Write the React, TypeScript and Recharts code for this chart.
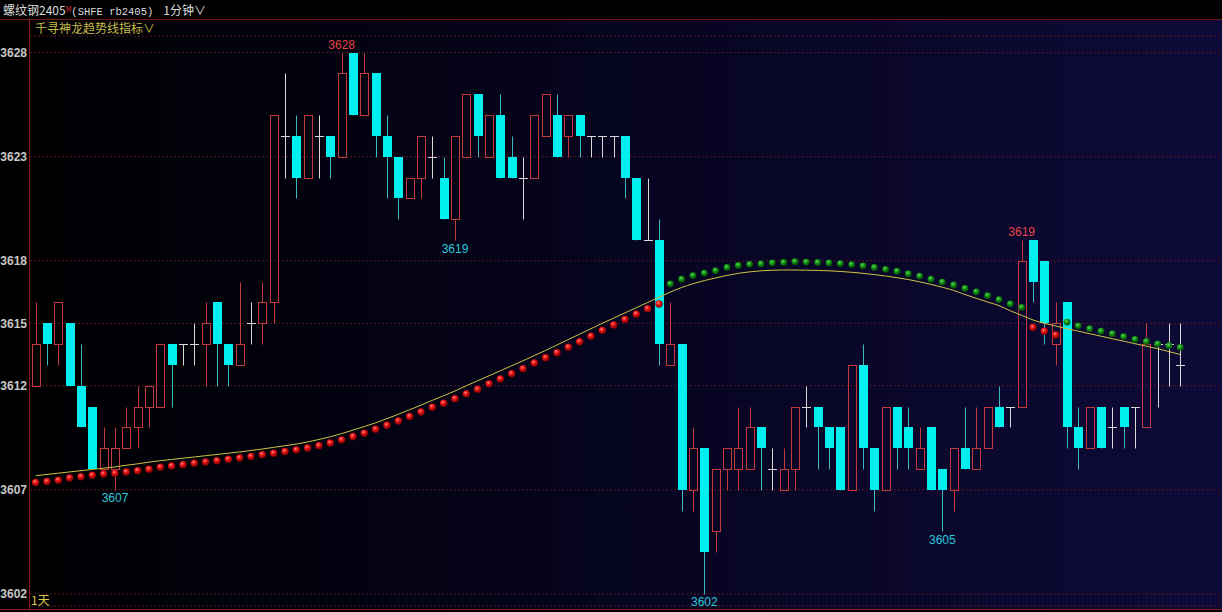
import React from "react";
import { ComposedChart, Bar, Line, XAxis, YAxis, CartesianGrid, ReferenceDot } from "recharts";

// 1-minute bars, rb2405
const opens = [
  3612, 3615, 3614, 3615, 3612, 3611, 3608, 3608, 3609, 3610,
  3611, 3611, 3614, 3614, 3614, 3614, 3616, 3614, 3613, 3615,
  3615, 3616, 3624, 3624, 3622, 3624, 3624, 3623, 3628, 3625,
  3627, 3624, 3623, 3621, 3622, 3623, 3622, 3620, 3623, 3626,
  3623, 3625, 3623, 3622, 3622, 3624, 3625, 3624, 3625, 3624,
  3624, 3624, 3624, 3622, 3619, 3619, 3613, 3614, 3607, 3609,
  3605, 3608, 3608, 3608, 3610, 3608, 3607, 3608, 3611, 3611,
  3610, 3610, 3607, 3613, 3609, 3607, 3611, 3610, 3608, 3610,
  3608, 3607, 3609, 3608, 3609, 3611, 3611, 3611, 3619, 3618,
  3614, 3616, 3610, 3609, 3611, 3610, 3611, 3611, 3610, 3614,
  3614, 3613,
];
const highs = [
  3616, 3615, 3616, 3615, 3614, 3611, 3610, 3610, 3611, 3612,
  3612, 3614, 3614, 3614, 3615, 3616, 3616, 3614, 3617, 3616,
  3617, 3625, 3627, 3625, 3625, 3625, 3624, 3628, 3628, 3628,
  3627, 3625, 3623, 3622, 3624, 3624, 3623, 3624, 3626, 3626,
  3625, 3626, 3624, 3623, 3625, 3626, 3626, 3625, 3625, 3624,
  3624, 3624, 3624, 3622, 3622, 3620, 3616, 3614, 3610, 3609,
  3608, 3609, 3611, 3611, 3610, 3609, 3609, 3611, 3612, 3611,
  3610, 3610, 3613, 3614, 3609, 3611, 3611, 3611, 3610, 3610,
  3608, 3609, 3611, 3611, 3611, 3612, 3611, 3619, 3619, 3618,
  3616, 3616, 3611, 3611, 3611, 3611, 3611, 3611, 3615, 3614,
  3615, 3615,
];
const lows = [
  3612, 3613, 3613, 3612, 3610, 3608, 3608, 3607, 3609, 3609,
  3610, 3611, 3611, 3613, 3613, 3612, 3612, 3612, 3613, 3614,
  3614, 3615, 3622, 3621, 3622, 3622, 3622, 3623, 3625, 3625,
  3623, 3621, 3620, 3621, 3621, 3622, 3620, 3619, 3623, 3623,
  3623, 3622, 3622, 3620, 3622, 3624, 3623, 3623, 3623, 3623,
  3623, 3623, 3621, 3619, 3619, 3613, 3613, 3606, 3606, 3602,
  3604, 3607, 3607, 3608, 3607, 3607, 3607, 3607, 3610, 3608,
  3608, 3607, 3607, 3608, 3606, 3607, 3608, 3608, 3608, 3607,
  3605, 3606, 3608, 3608, 3609, 3610, 3610, 3611, 3616, 3614,
  3613, 3609, 3608, 3609, 3609, 3609, 3609, 3609, 3610, 3611,
  3612, 3612,
];
const closes = [
  3614, 3614, 3616, 3612, 3610, 3608, 3609, 3609, 3610, 3611,
  3612, 3614, 3613, 3614, 3614, 3615, 3614, 3613, 3614, 3615,
  3616, 3625, 3624, 3622, 3625, 3624, 3623, 3627, 3625, 3627,
  3624, 3623, 3621, 3622, 3624, 3623, 3620, 3624, 3626, 3624,
  3625, 3622, 3622, 3622, 3625, 3626, 3623, 3625, 3624, 3624,
  3624, 3624, 3622, 3619, 3619, 3614, 3614, 3607, 3609, 3604,
  3608, 3609, 3609, 3610, 3609, 3608, 3608, 3611, 3611, 3610,
  3609, 3607, 3613, 3609, 3607, 3611, 3609, 3609, 3609, 3607,
  3607, 3609, 3608, 3609, 3611, 3610, 3611, 3618, 3617, 3615,
  3615, 3610, 3609, 3611, 3609, 3610, 3610, 3611, 3614, 3614,
  3614, 3613,
];
// yellow trend line
const trendLine = [
  3607.68, 3607.74, 3607.8, 3607.86, 3607.92, 3607.98, 3608.04, 3608.1, 3608.18, 3608.25,
  3608.33, 3608.4, 3608.46, 3608.52, 3608.58, 3608.64, 3608.7, 3608.76, 3608.82, 3608.89,
  3608.96, 3609.04, 3609.12, 3609.2, 3609.3, 3609.42, 3609.55, 3609.7, 3609.87, 3610.04,
  3610.22, 3610.42, 3610.63, 3610.85, 3611.07, 3611.3, 3611.52, 3611.75, 3612.0, 3612.24,
  3612.48, 3612.72, 3612.96, 3613.2, 3613.45, 3613.7, 3613.96, 3614.22, 3614.48, 3614.74,
  3615.0, 3615.25, 3615.5, 3615.75, 3616.0, 3616.25, 3616.5, 3616.72, 3616.9, 3617.05,
  3617.18, 3617.3, 3617.4, 3617.47, 3617.52, 3617.55, 3617.56, 3617.56, 3617.55, 3617.54,
  3617.52, 3617.49, 3617.45, 3617.4, 3617.34, 3617.27, 3617.19, 3617.1, 3616.99, 3616.87,
  3616.73, 3616.58, 3616.38, 3616.2, 3616.02, 3615.85, 3615.6, 3615.38, 3615.16, 3615.0,
  3614.87, 3614.74, 3614.62, 3614.5, 3614.38, 3614.26, 3614.14, 3614.02, 3613.9, 3613.78,
  3613.64, 3613.5,
];
// dots: below the line = red, above = green
const stopDots = [
  3607.35, 3607.4, 3607.46, 3607.57, 3607.63, 3607.7, 3607.76, 3607.8, 3607.86, 3607.92,
  3607.99, 3608.09, 3608.15, 3608.21, 3608.28, 3608.34, 3608.4, 3608.47, 3608.53, 3608.6,
  3608.69, 3608.76, 3608.84, 3608.92, 3609.01, 3609.12, 3609.25, 3609.4, 3609.56, 3609.72,
  3609.91, 3610.1, 3610.31, 3610.52, 3610.74, 3610.97, 3611.16, 3611.38, 3611.61, 3611.83,
  3612.09, 3612.33, 3612.58, 3612.82, 3613.09, 3613.35, 3613.59, 3613.85, 3614.11, 3614.38,
  3614.66, 3614.92, 3615.18, 3615.44, 3615.7, 3615.93, 3616.89, 3617.12, 3617.29, 3617.41,
  3617.53, 3617.68, 3617.78, 3617.83, 3617.85, 3617.9, 3617.92, 3617.96, 3617.94, 3617.92,
  3617.9, 3617.87, 3617.82, 3617.76, 3617.68, 3617.59, 3617.5, 3617.38, 3617.27, 3617.12,
  3616.98, 3616.84, 3616.68, 3616.51, 3616.33, 3616.14, 3615.93, 3615.76, 3614.8, 3614.62,
  3614.44, 3615.06, 3614.88, 3614.74, 3614.62, 3614.5, 3614.36, 3614.23, 3614.13, 3614.01,
  3613.92, 3613.84,
];
const priceTicks = [3602, 3607, 3612, 3615, 3618, 3623, 3628];
const extremes = [
  { bar: 28, price: 3628, side: "high" },
  { bar: 8, price: 3607, side: "low" },
  { bar: 38, price: 3619, side: "low" },
  { bar: 60, price: 3602, side: "low" },
  { bar: 81, price: 3605, side: "low" },
  { bar: 88, price: 3619, side: "high" },
];

const data = opens.map((o, i) => ({
  t: String(i + 1),
  open: o,
  high: highs[i],
  low: lows[i],
  close: closes[i],
  range: [lows[i], highs[i]],
  trend: trendLine[i],
  red: stopDots[i] < trendLine[i] ? stopDots[i] : null,
  green: stopDots[i] > trendLine[i] ? stopDots[i] : null,
}));

const UP = "#c23a3e";
const DOWN = "#00f0f0";
const DOWN_WICK = "#3ab8c0";
const DOJI = "#d8d8d8";

function Candle(props: any) {
  const { x, y, width, height, payload } = props;
  if (x == null || y == null) return <g />;
  const top = Math.min(y, y + height);
  const h = Math.abs(height);
  const { open, close, high, low } = payload;
  const py = (v: number) => top + ((high - v) / (high - low)) * h;
  const ry = (v: number) => Math.round(py(v)) + 0.5;
  const c = Math.round(x + width / 2);
  const wx = c + 0.5;
  const yH = ry(high);
  const yL = ry(low);

  if (open === close) {
    const yo = ry(open);
    return (
      <g>
        <line x1={wx} x2={wx} y1={yH} y2={yL} stroke={DOJI} />
        <line x1={c - 4} x2={c + 5} y1={yo} y2={yo} stroke={DOJI} />
      </g>
    );
  }
  if (close > open) {
    const bt = ry(close);
    const bb = ry(open);
    return (
      <g>
        {bt > yH && <line x1={wx} x2={wx} y1={yH} y2={bt} stroke={UP} />}
        {bb < yL && <line x1={wx} x2={wx} y1={bb} y2={yL} stroke={UP} />}
        <rect x={c - 3.5} y={bt} width={8} height={bb - bt} fill="none" stroke={UP} />
      </g>
    );
  }
  const bt = Math.round(py(open));
  const bb = Math.round(py(close));
  return (
    <g>
      <line x1={wx} x2={wx} y1={yH} y2={yL} stroke={DOWN_WICK} />
      <rect x={c - 4} y={bt} width={9} height={Math.max(1, bb - bt)} fill={DOWN} />
    </g>
  );
}

const ball = (fillId: string, r: number) => (p: any) => {
  const { cx, cy, index, value } = p;
  if (value == null || cy == null || Number.isNaN(cy)) return <g key={`${fillId}-${index}`} />;
  return <circle key={`${fillId}-${index}`} cx={cx} cy={cy} r={r} fill={`url(#${fillId})`} />;
};

const cjk = '"Noto Sans CJK SC", "DejaVu Sans", sans-serif';
const num = '"Liberation Sans", Arial, sans-serif';

export default function App() {
  return (
    <div style={{ position: "absolute", left: 0, top: 0, width: 1222, height: 612, background: "#000", overflow: "hidden" }}>
      {/* plot background */}
      <div
        style={{
          position: "absolute",
          left: 30,
          top: 20,
          width: 1192,
          height: 589,
          background: "linear-gradient(to right, #000002 0%, #020210 25%, #070522 55%, #0e0a38 100%)",
        }}
      />
      <div style={{ position: "absolute", left: 0, top: 19, width: 1222, height: 1, background: "#6e1414" }} />
      <div style={{ position: "absolute", left: 29, top: 19, width: 1, height: 591, background: "#8a1c1c" }} />
      <div style={{ position: "absolute", left: 0, top: 609, width: 1222, height: 1, background: "#8a1c1c" }} />

      <div style={{ position: "absolute", left: 0, top: 0 }}>
        <ComposedChart width={1222} height={612} data={data} margin={{ top: 36, right: 0, bottom: 6, left: 0 }}>
          <defs>
            <radialGradient id="redBall" cx="40%" cy="35%" r="65%">
              <stop offset="0%" stopColor="#ff9a9a" />
              <stop offset="35%" stopColor="#f01818" />
              <stop offset="100%" stopColor="#7a0000" />
            </radialGradient>
            <radialGradient id="greenBall" cx="40%" cy="35%" r="65%">
              <stop offset="0%" stopColor="#6ad86a" />
              <stop offset="40%" stopColor="#159a15" />
              <stop offset="100%" stopColor="#064806" />
            </radialGradient>
          </defs>
          <CartesianGrid vertical={false} stroke="#561722" strokeDasharray="2 2" />
          <XAxis dataKey="t" type="category" hide padding={{ left: 0, right: 36 }} />
          <YAxis
            type="number"
            domain={[3601.42, 3628.8]}
            allowDataOverflow
            ticks={priceTicks}
            interval={0}
            width={30}
            axisLine={false}
            tickLine={false}
            tickSize={0}
            tickMargin={3}
            tick={{ fill: "#c8c8c8", fontSize: 12, fontWeight: "bold", fontFamily: num }}
          />
          <Bar dataKey="range" shape={<Candle />} isAnimationActive={false} />
          <Line
            dataKey="trend"
            type="monotone"
            stroke="#cfc444"
            strokeWidth={1}
            dot={false}
            activeDot={false}
            isAnimationActive={false}
          />
          <Line dataKey="red" stroke="none" dot={ball("redBall", 3.7)} activeDot={false} isAnimationActive={false} />
          <Line dataKey="green" stroke="none" dot={ball("greenBall", 3.4)} activeDot={false} isAnimationActive={false} />
          {extremes.map((e) => (
            <ReferenceDot
              key={`${e.bar}-${e.price}`}
              x={String(e.bar)}
              y={e.price}
              r={0}
              ifOverflow="visible"
              label={{
                value: String(e.price),
                position: e.side === "high" ? "top" : "bottom",
                offset: 4,
                fill: e.side === "high" ? "#e84444" : "#2cc8dc",
                fontSize: 12,
                fontFamily: num,
              }}
            />
          ))}
        </ComposedChart>
      </div>

      <div style={{ position: "absolute", left: 3, top: 2, fontSize: 12, lineHeight: "16px", color: "#dcdcdc", fontFamily: cjk, whiteSpace: "nowrap" }}>
        螺纹钢2405
        <span style={{ color: "#e03030", fontSize: 7, verticalAlign: "top", position: "relative", top: -1 }}>M</span>
        <span style={{ fontFamily: '"Liberation Mono", monospace', fontSize: 10.5 }}>(SHFE rb2405)</span>
        <span style={{ marginLeft: 10 }}>1分钟∨</span>
      </div>
      <div style={{ position: "absolute", left: 35, top: 20, fontSize: 12, lineHeight: "16px", color: "#c8bc48", fontFamily: cjk, whiteSpace: "nowrap" }}>
        千寻神龙趋势线指标∨
      </div>
      <div style={{ position: "absolute", left: 31, top: 592, fontSize: 12, lineHeight: "16px", color: "#d8c850", fontFamily: cjk }}>
        1天
      </div>
    </div>
  );
}
